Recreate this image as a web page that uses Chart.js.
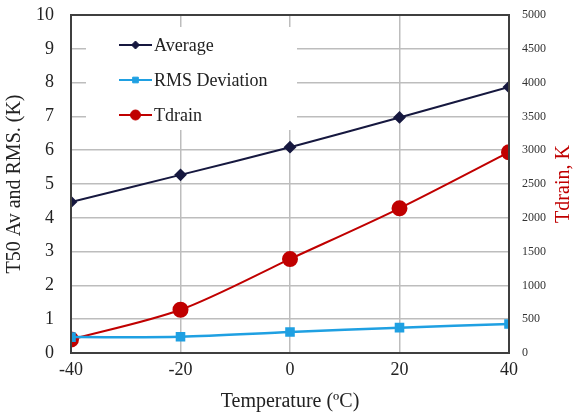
<!DOCTYPE html>
<html>
<head>
<meta charset="utf-8">
<script src="https://cdn.jsdelivr.net/npm/chart.js@4/dist/chart.umd.min.js"></script>
<style>
  html, body { margin: 0; padding: 0; background: #fff; }
  #wrap { width: 574px; height: 418px; }
</style>
</head>
<body>
<div id="wrap"><canvas id="chart" width="574" height="418"></canvas></div>
<script>
const temps = [-40, -20, 0, 20, 40];
const average = [4.47, 5.27, 6.09, 6.97, 7.87];
const rmsDeviation = [0.47, 0.48, 0.62, 0.75, 0.86];
const tdrain = [200, 640, 1390, 2140, 2970];

const seriesNames = ['Average', 'RMS Deviation', 'Tdrain'];
const leftTitle = 'T50 Av and RMS. (K)';
const rightTitle = 'Tdrain, K';
const xTitle = 'Temperature (\u00BAC)';

const serif = '"Liberation Serif", "Times New Roman", serif';
const navy = '#16183f';
const blue = '#1fa0e2';
const red = '#c00000';
const gridGrey = '#bdbdbd';
const frame = '#3f3f3f';

function toPoints(values) {
  return temps.map((t, i) => ({ x: t, y: values[i] }));
}

// fixed box sizes so the plot area sits where the original one does
function fitVertical(width) {
  return s => { s.width = width; s.paddingTop = 10; s.paddingBottom = 10; };
}

// frame, legend box and right title (drawn rotated like the original)
const extras = {
  id: 'extras',
  beforeDatasetsDraw(chart) {
    const { ctx, chartArea } = chart;
    ctx.save();
    ctx.fillStyle = '#fff';
    ctx.fillRect(chartArea.left + 15, chartArea.top + 12, 211, 103);
    ctx.restore();
  },
  afterDatasetsDraw(chart) {
    const { ctx, chartArea } = chart;
    ctx.save();
    ctx.strokeStyle = frame;
    ctx.lineWidth = 2;
    ctx.strokeRect(chartArea.left, chartArea.top, chartArea.right - chartArea.left, chartArea.bottom - chartArea.top);

    // legend
    const x0 = chartArea.left + 48, x1 = chartArea.left + 81;
    const rows = [30, 65, 100];
    chart.data.datasets.forEach((ds, i) => {
      const y = chartArea.top + rows[i];
      ctx.strokeStyle = ds.borderColor;
      ctx.fillStyle = ds.borderColor;
      ctx.lineWidth = 2;
      ctx.beginPath(); ctx.moveTo(x0, y); ctx.lineTo(x1, y); ctx.stroke();
      ctx.lineWidth = 1;
      Chart.helpers.drawPoint(ctx, {
        pointStyle: ds.pointStyle, radius: ds.legendRadius, rotation: 0, borderWidth: 1
      }, (x0 + x1) / 2, y);
      ctx.fillStyle = '#222';
      ctx.font = '18px ' + serif;
      ctx.textBaseline = 'middle';
      ctx.textAlign = 'left';
      ctx.fillText(ds.label, x1 + 2, y + 1);
    });

    // right axis title
    ctx.translate(564, (chartArea.top + chartArea.bottom) / 2);
    ctx.rotate(-Math.PI / 2);
    ctx.fillStyle = red;
    ctx.font = '20px ' + serif;
    ctx.textAlign = 'center';
    ctx.textBaseline = 'middle';
    ctx.fillText(rightTitle, 0, 0);
    ctx.restore();
  }
};

new Chart(document.getElementById('chart'), {
  type: 'line',
  data: {
    datasets: [
      {
        label: seriesNames[0], data: toPoints(average), yAxisID: 'y',
        borderColor: navy, backgroundColor: navy, borderWidth: 2,
        pointStyle: 'rectRot', pointRadius: 5, legendRadius: 4, tension: 0.3
      },
      {
        label: seriesNames[1], data: toPoints(rmsDeviation), yAxisID: 'y',
        borderColor: blue, backgroundColor: blue, borderWidth: 2.5,
        pointStyle: 'rect', pointRadius: 5, legendRadius: 4, tension: 0.3
      },
      {
        label: seriesNames[2], data: toPoints(tdrain), yAxisID: 'y1',
        borderColor: red, backgroundColor: red, borderWidth: 2,
        pointStyle: 'circle', pointRadius: 7, legendRadius: 5, tension: 0.3
      }
    ]
  },
  options: {
    responsive: false,
    animation: false,
    layout: { padding: { top: 15, left: 0, right: 0, bottom: 0 } },
    plugins: { legend: { display: false }, tooltip: { enabled: false } },
    scales: {
      x: {
        type: 'linear', min: -40, max: 40,
        afterFit: s => { s.height = 65; },
        ticks: { stepSize: 20, color: '#222', padding: 6, font: { family: serif, size: 18 } },
        grid: { color: gridGrey, lineWidth: 1.5, drawTicks: false },
        border: { display: false },
        title: { display: true, text: xTitle, color: '#222', padding: { top: 2, bottom: 4 }, font: { family: serif, size: 20 } }
      },
      y: {
        position: 'left', min: 0, max: 10,
        afterFit: fitVertical(71),
        ticks: { stepSize: 1, color: '#222', padding: 17, font: { family: serif, size: 18 } },
        grid: { color: gridGrey, lineWidth: 1.5, drawTicks: false },
        border: { display: false },
        title: { display: true, text: leftTitle, color: '#222', padding: { top: 3, bottom: 0 }, font: { family: serif, size: 20 } }
      },
      y1: {
        position: 'right', min: 0, max: 5000,
        afterFit: fitVertical(65),
        ticks: { stepSize: 500, color: '#333', padding: 13, font: { family: serif, size: 12 }, callback: v => String(v) },
        grid: { drawOnChartArea: false, drawTicks: false },
        border: { display: false }
      }
    }
  },
  plugins: [extras]
});
</script>
</body>
</html>
